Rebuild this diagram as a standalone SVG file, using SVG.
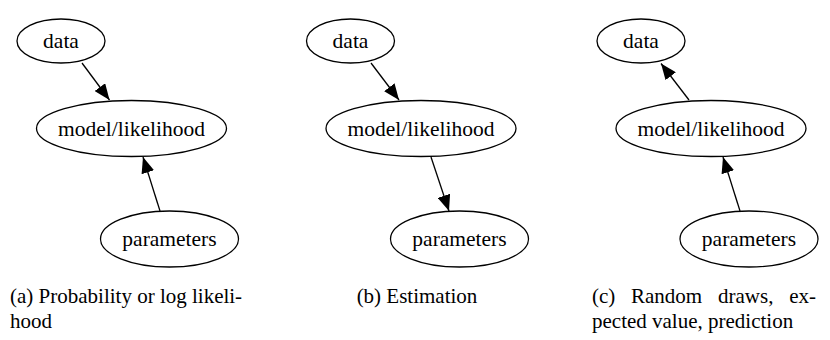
<svg xmlns="http://www.w3.org/2000/svg" width="830" height="340" viewBox="0 0 830 340">
  <defs>
    <marker id="arrow" viewBox="0 0 16 13" refX="16" refY="6.5" markerWidth="16" markerHeight="13" markerUnits="userSpaceOnUse" orient="auto">
      <path d="M0,0 L16,6.5 L0,13 z" fill="#000"/>
    </marker>
  </defs>
  <rect width="830" height="340" fill="#fff"/>

  <!-- Panel (a) -->
  <g id="a-data" fill="none" stroke="#000" stroke-width="1.3"><ellipse cx="61" cy="41" rx="44" ry="22"/></g>
  <text font-family="'Liberation Serif'" font-size="21.5" text-anchor="middle" x="61" y="48">data</text>
  <g id="a-model" fill="none" stroke="#000" stroke-width="1.3"><ellipse cx="131.5" cy="128.5" rx="95" ry="28"/></g>
  <text font-family="'Liberation Serif'" font-size="21.5" text-anchor="middle" x="131.5" y="135.5">model/likelihood</text>
  <g id="a-params" fill="none" stroke="#000" stroke-width="1.3"><ellipse cx="169.5" cy="239" rx="69" ry="28"/></g>
  <text font-family="'Liberation Serif'" font-size="21.5" text-anchor="middle" x="169.5" y="246">parameters</text>

  <!-- Panel (b) -->
  <g id="b-data" fill="none" stroke="#000" stroke-width="1.3"><ellipse cx="350.5" cy="41" rx="44" ry="22"/></g>
  <text font-family="'Liberation Serif'" font-size="21.5" text-anchor="middle" x="350.5" y="48">data</text>
  <g id="b-model" fill="none" stroke="#000" stroke-width="1.3"><ellipse cx="421" cy="128.5" rx="95" ry="28"/></g>
  <text font-family="'Liberation Serif'" font-size="21.5" text-anchor="middle" x="421" y="135.5">model/likelihood</text>
  <g id="b-params" fill="none" stroke="#000" stroke-width="1.3"><ellipse cx="459.5" cy="239" rx="69" ry="28"/></g>
  <text font-family="'Liberation Serif'" font-size="21.5" text-anchor="middle" x="459.5" y="246">parameters</text>

  <!-- Panel (c) -->
  <g id="c-data" fill="none" stroke="#000" stroke-width="1.3"><ellipse cx="641" cy="41" rx="44" ry="22"/></g>
  <text font-family="'Liberation Serif'" font-size="21.5" text-anchor="middle" x="641" y="48">data</text>
  <g id="c-model" fill="none" stroke="#000" stroke-width="1.3"><ellipse cx="711" cy="128.5" rx="95" ry="28"/></g>
  <text font-family="'Liberation Serif'" font-size="21.5" text-anchor="middle" x="711" y="135.5">model/likelihood</text>
  <g id="c-params" fill="none" stroke="#000" stroke-width="1.3"><ellipse cx="749" cy="239" rx="69" ry="28"/></g>
  <text font-family="'Liberation Serif'" font-size="21.5" text-anchor="middle" x="749" y="246">parameters</text>

  <g id="connectors" stroke="#000" stroke-width="1.3" fill="none" marker-end="url(#arrow)">
    <line x1="82" y1="63" x2="109.5" y2="100"/>
    <line x1="160" y1="211" x2="143" y2="157"/>
    <line x1="371" y1="63" x2="399" y2="100"/>
    <line x1="431" y1="157" x2="449" y2="211"/>
    <line x1="689" y1="100" x2="661" y2="63.5"/>
    <line x1="740" y1="211" x2="723" y2="157"/>
  </g>

  <text font-family="'Liberation Serif'" font-size="21" x="10" y="302.5">(a) Probability or log likeli-</text>
  <text font-family="'Liberation Serif'" font-size="21" x="10" y="328">hood</text>
  <text font-family="'Liberation Serif'" font-size="21" x="417" y="302.5" text-anchor="middle">(b) Estimation</text>
  <text font-family="'Liberation Serif'" font-size="21" y="302.5"><tspan x="592">(c)</tspan><tspan x="631">Random</tspan><tspan x="718">draws,</tspan><tspan x="816" text-anchor="end">ex-</tspan></text>
  <text font-family="'Liberation Serif'" font-size="21" x="592" y="328">pected value, prediction</text>
</svg>
